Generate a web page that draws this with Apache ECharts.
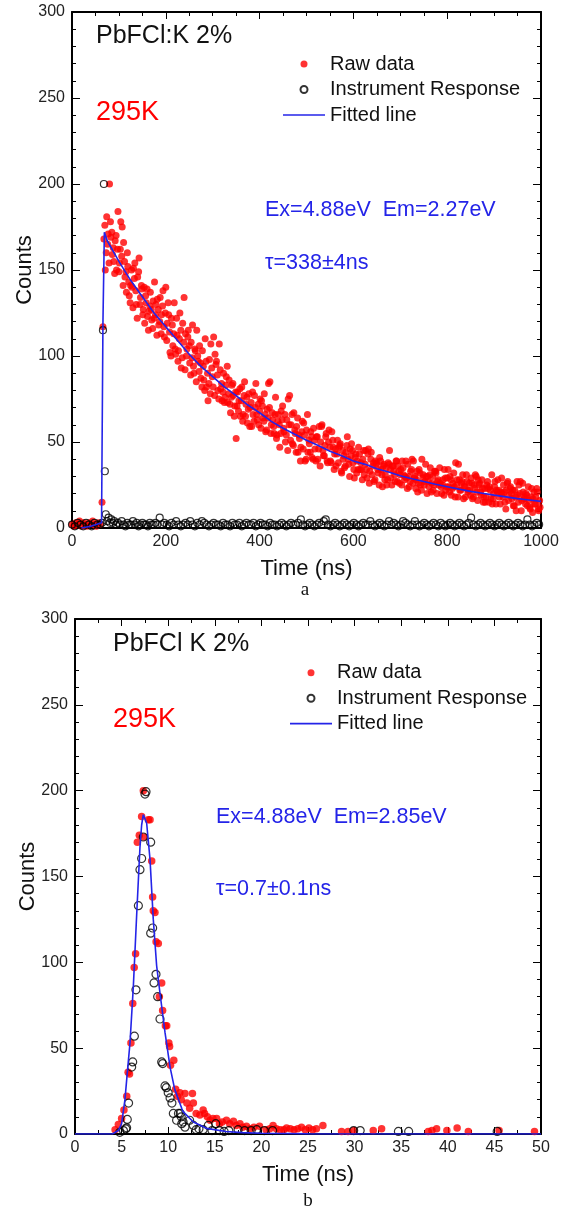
<!DOCTYPE html>
<html><head><meta charset="utf-8">
<script src="https://cdn.jsdelivr.net/npm/echarts@6/dist/echarts.min.js"></script>
<style>html,body{margin:0;padding:0;background:#fff}#c{width:567px;height:1210px}</style>
</head><body><div id="c"></div>
<script>
// ---------- Panel a (0-1000 ns) ----------
const rawA = [[0,2],[4,1],[8,3],[12,2],[16,4],[20,1],[24,3],[28,2],[32,1],[36,3],[40,2],[44,4],[48,2],[52,1],[56,3],[60,2],[64,15],[66,117],
[68,168],[71,150],[74,181],[77,171],[80,200],[83,169],[86,159],[89,155],[92,167],[95,150],
[98,184],[101,154],[104,178],[107,175],[110,166],[113,146],[116,137],[119,152],[122,135],[125,141],
[128,140],[131,151],[134,154],[137,130],[140,146],[143,157],[146,134],[149,139],[152,127],[155,119],
[158,131],[161,123],[164,126],[167,137],[170,121],[173,132],[176,143],[179,130],[182,133],[185,118],
[188,134],[191,124],[194,138],[197,111],[200,140],[203,119],[206,124],[209,102],[212,122],[215,106],
[218,131],[221,101],[224,112],[227,103],[230,125],[233,93],[236,119],[239,134],[242,113],[245,104],
[248,115],[251,96],[254,108],[257,118],[260,90],[263,103],[266,115],[269,97],[272,106],[275,87],
[278,103],[281,86],[284,110],[287,82],[290,74],[293,98],[296,107],[299,88],[302,111],[305,101],
[308,97],[311,80],[314,107],[317,81],[320,74],[323,90],[326,76],[329,88],[332,73],[335,86],
[338,67],[341,83],[344,77],[347,71],[350,52],[353,79],[356,74],[359,65],[362,82],[365,66],
[368,85],[371,72],[374,61],[377,78],[380,70],[383,59],[386,66],[389,77],[392,84],[395,63],
[398,60],[401,75],[404,74],[407,64],[410,78],[413,56],[416,69],[419,84],[422,85],[425,60],
[428,63],[431,55],[434,76],[437,54],[440,66],[443,47],[446,68],[449,71],[452,56],[455,50],
[458,63],[461,75],[464,77],[467,60],[470,49],[473,67],[476,55],[479,59],[482,44],[485,52],
[488,47],[491,62],[494,61],[497,39],[500,57],[503,44],[506,49],[509,56],[512,41],[515,58],
[518,46],[521,53],[524,40],[527,59],[530,50],[533,60],[536,42],[539,48],[542,55],[545,38],
[548,57],[551,39],[554,56],[557,47],[560,43],[563,36],[566,51],[569,47],[572,49],[575,32],
[578,40],[581,35],[584,44],[587,53],[590,37],[593,46],[596,49],[599,38],[602,29],[605,43],
[608,39],[611,47],[614,34],[617,34],[620,40],[623,31],[626,45],[629,29],[632,46],[635,33],
[638,44],[641,36],[644,27],[647,39],[650,38],[653,32],[656,41],[659,34],[662,24],[665,37],
[668,31],[671,25],[674,38],[677,45],[680,29],[683,36],[686,33],[689,27],[692,39],[695,36],
[698,26],[701,34],[704,39],[707,31],[710,30],[713,29],[716,37],[719,24],[722,33],[725,40],
[728,39],[731,30],[734,28],[737,21],[740,34],[743,25],[746,40],[749,31],[752,27],[755,30],
[758,30],[761,24],[764,35],[767,26],[770,22],[773,33],[776,32],[779,27],[782,25],[785,26],
[788,20],[791,28],[794,34],[797,22],[800,29],[803,24],[806,30],[809,19],[812,26],[815,24],
[818,38],[821,28],[824,37],[827,22],[830,26],[833,31],[836,24],[839,18],[842,27],[845,22],
[848,22],[851,29],[854,17],[857,25],[860,31],[863,21],[866,28],[869,26],[872,19],[875,23],
[878,18],[881,15],[884,25],[887,23],[890,24],[893,17],[896,14],[899,20],[902,27],[905,22],
[908,28],[911,18],[914,21],[917,20],[920,25],[923,15],[926,22],[929,27],[932,19],[935,24],
[938,17],[941,13],[944,22],[947,10],[950,19],[953,25],[956,27],[959,16],[962,21],[965,18],
[968,20],[971,13],[974,16],[977,11],[980,23],[983,17],[986,14],[989,18],[992,21],[995,10],[998,12],
[70,176],[73,160],[76,165],[79,154],[82,178],[85,172],[88,163],[91,148],[94,170],[97,162],
[100,149],[103,162],[106,158],[109,141],[112,155],[115,149],[118,160],[121,143],[124,131],[127,150],
[130,128],[133,145],[136,138],[139,122],[142,149],[145,130],[148,141],[151,124],[154,140],[157,135],
[160,139],[163,115],[166,129],[169,127],[172,116],[175,122],[178,124],[181,112],[184,127],[187,120],
[190,113],[193,129],[196,117],[199,125],[202,109],[205,131],[208,114],[211,100],[214,118],[217,113],
[220,104],[223,122],[226,97],[229,110],[232,115],[235,99],[238,108],[241,92],[244,100],[247,111],
[250,106],[253,89],[256,99],[259,94],[262,104],[265,85],[268,100],[271,91],[274,96],[277,82],
[280,94],[283,80],[286,97],[289,90],[292,84],[295,78],[298,93],[301,82],[304,77],[307,95],
[310,89],[313,75],[316,92],[319,84],[322,79],[325,73],[328,83],[331,94],[334,78],[337,72],
[340,76],[343,84],[346,65],[349,79],[352,71],[355,68],[358,81],[361,74],[364,62],[367,77],
[370,65],[373,76],[376,69],[379,59],[382,73],[385,79],[388,62],[391,70],[394,66],[397,72],
[400,68],[403,58],[406,71],[409,62],[412,66],[415,57],[418,64],[421,70],[424,55],[427,67],
[430,59],[433,66],[436,52],[439,62],[442,60],[445,55],[448,63],[451,58],[454,66],[457,54],
[460,45],[463,60],[466,51],[469,66],[472,48],[475,57],[478,44],[481,64],[484,54],[487,39],
[490,56],[493,46],[496,54],[499,40],[502,66],[505,51],[508,44],[511,53],[514,40],[517,51],
[520,39],[523,53],[526,46],[529,36],[532,59],[535,45],[538,42],[541,53],[544,39],[547,50],
[550,47],[553,38],[556,51],[559,34],[562,46],[565,43],[568,38],[571,48],[574,33],[577,45],
[580,42],[583,36],[586,48],[589,40],[592,30],[595,42],[598,45],[601,34],[604,41],[607,32],
[610,34],[613,43],[616,38],[619,28],[622,45],[625,37],[628,34],[631,43],[634,26],[637,40],
[640,31],[643,38],[646,28],[649,37],[652,34],[655,25],[658,39],[661,31],[664,36],[667,28],
[670,35],[673,28],[676,37],[679,34],[682,25],[685,36],[688,31],[691,39],[694,27],[697,33],
[700,31],[703,25],[706,35],[709,28],[712,39],[715,23],[718,30],[721,27],[724,34],[727,26],
[730,29],[733,23],[736,33],[739,26],[742,32],[745,22],[748,29],[751,25],[754,37],[757,20],
[760,27],[763,31],[766,21],[769,30],[772,25],[775,33],[778,20],[781,28],[784,35],[787,24],
[790,25],[793,19],[796,29],[799,24],[802,34],[805,21],[808,28],[811,23],[814,32],[817,18],
[820,25],[823,18],[826,28],[829,22],[832,27],[835,17],[838,24],[841,31],[844,21],[847,26],
[850,19],[853,26],[856,18],[859,23],[862,30],[865,16],[868,25],[871,21],[874,28],[877,15],
[880,23],[883,18],[886,27],[889,15],[892,22],[895,31],[898,17],[901,24],[904,14],[907,21],
[910,22],[913,14],[916,29],[919,18],[922,21],[925,11],[928,26],[931,16],[934,23],[937,20],
[940,22],[943,13],[946,18],[949,27],[952,15],[955,20],[958,10],[961,26],[964,17],[967,14],
[970,19],[973,24],[976,12],[979,18],[982,9],[985,21],[988,14],[991,23],[994,11],[997,16]];

const irfA = [[0,2],[6,1],[12,3],[18,2],[24,1],[30,3],[36,2],[42,1],[48,3],[54,2],[60,2],[64,3],[66,115],[68,200],[70,33],[72,8],[75,4],[78,6],[81,3],[84,5],[87,3],[90,4],[94,2],[98,3],[102,2],[106,4],[110,2],[114,1],[118,3],[122,2],[126,2],[130,4],[134,2],[138,3],[142,1],[146,2],[150,3],[154,2],[158,2],[162,1],[166,3],[170,2],[174,2],[178,3],[182,2],[187,6],[192,2],[197,3],[202,2],[207,1],[212,3],[217,2],[222,4],[227,2],[232,1],[237,2],[242,3],[247,2],[252,4],[257,2],[262,1],[267,3],[272,2],[277,4],[282,3],[287,2],[292,1],[297,2],[302,3],[307,2],[312,2],[317,1],[322,3],[327,2],[332,2],[337,1],[342,3],[347,2],[352,2],[357,3],[362,1],[367,2],[372,3],[377,2],[382,2],[387,3],[392,1],[397,2],[402,3],[407,2],[412,2],[417,1],[422,3],[427,2],[432,2],[437,1],[442,2],[447,3],[452,2],[457,1],[462,2],[467,3],[472,2],[477,2],[482,3],[488,5],[492,2],[497,1],[502,2],[507,3],[512,2],[517,1],[522,2],[527,3],[532,2],[537,4],[541,5],[546,2],[551,1],[556,2],[561,3],[566,2],[571,1],[576,2],[581,3],[586,2],[591,1],[596,2],[601,3],[606,2],[611,1],[616,2],[621,3],[626,2],[631,2],[636,4],[641,2],[646,1],[651,2],[656,3],[661,2],[666,1],[671,2],[676,4],[681,2],[686,3],[691,2],[696,1],[701,2],[706,4],[711,3],[716,2],[721,1],[726,2],[731,4],[736,2],[741,1],[746,2],[751,3],[756,2],[761,1],[766,2],[771,3],[776,2],[781,1],[786,3],[791,2],[796,1],[801,2],[806,3],[811,2],[816,1],[821,2],[826,3],[831,2],[836,1],[841,2],[846,3],[851,6],[856,2],[861,1],[866,2],[871,3],[876,2],[881,1],[886,2],[891,3],[896,2],[901,1],[906,2],[911,3],[916,2],[921,1],[926,2],[931,3],[936,2],[941,1],[946,2],[951,3],[956,2],[961,1],[966,2],[971,5],[976,2],[981,1],[986,2],[991,3],[996,2]];

const fitA = [[20,0],[40,1],[63,3],[66,120],[69,172],[75,167],[100,155],[125,144],[150,134.5],[175,125],[200,117],[225,109],[250,101],[275,94],[300,88],[325,82],[350,77],[375,71.5],[400,67],[425,62],[450,58],[475,54.5],[500,51],[525,48],[550,44.6],[575,42],[600,39],[625,37],[650,34.5],[675,32.5],[700,30.4],[725,28.6],[750,27],[775,25.4],[800,24],[825,22.6],[850,21.3],[875,20.2],[900,19.1],[925,18.1],[950,17.1],[975,16.3],[1000,15.5]];

// ---------- Panel b (0-50 ns) ----------
const rawB = [[4.3,2.5],[4.65,5.5],[5.0,9],[5.25,14],[5.55,22],[5.7,36],[5.85,35],[6.0,53],[6.2,76],[6.35,97],[6.5,105],[6.69,170],[6.9,174],[7.15,185],[7.33,200],[7.4,173],[7.87,183],[8.05,183],[8.23,159],[8.33,138],[8.4,130],[8.58,129],[8.7,112],[8.94,111],[9.05,80],[9.3,88],[9.4,72],[9.7,63],[9.84,63],[10.07,53],[10.15,51],[10.25,40],[10.6,43],[10.8,26],[11.0,22],[11.25,24],[11.4,20],[11.8,23.6],[12.0,18],[12.3,15],[12.6,23.6],[12.7,18],[13.0,12],[13.4,11],[13.75,14],[13.9,12],[14.2,10],[14.5,8],[14.8,9],[15.2,9],[15.5,6],[15.8,7],[16.25,8],[16.6,6],[17.0,7.4],[17.3,5],[17.7,6],[18.0,4],[18.4,4.5],[18.8,3],[19.2,4],[19.8,4.5],[20.5,2.5],[20.9,3],[21.25,5],[21.6,3],[22.0,2.5],[22.4,2.5],[22.7,3.5],[23.1,3],[23.5,2.5],[23.9,3],[24.3,4],[24.7,2.5],[25.1,3.5],[25.5,2.5],[25.9,3],[26.6,5],[28.6,1.5],[29.3,1.5],[29.9,2],[32.0,2],[32.9,3],[37.9,1.5],[38.3,2],[38.8,3],[39.9,2],[41.0,3.5],[42.2,1.5],[45.5,2],[49.3,1.5]];

const irfB = [[4.8,1],[5.2,2],[5.45,3],[5.54,3.6],[5.61,8.5],[5.75,18],[6.08,39],[6.19,42],[6.37,57],[6.54,84],[6.8,133],[6.97,154],[7.15,160.5],[7.33,173],[7.51,198],[7.62,199.4],[8.12,170],[8.12,117],[8.33,120],[8.48,88],[8.69,93],[8.87,80],[9.12,67],[9.3,42],[9.41,41],[9.66,28],[9.8,27],[10.0,24],[10.2,21],[10.4,18],[10.55,12],[10.9,8],[11.1,12],[11.3,12],[11.4,10],[11.45,6],[11.6,7],[11.8,4],[12.3,8],[12.7,5],[13.0,2.5],[13.3,3],[13.75,2.5],[14.3,5],[14.7,2],[15.1,6],[15.5,2],[16.0,1.5],[16.5,2],[17.5,2.5],[18.2,2],[18.9,2],[19.5,2.5],[20.3,2],[21.2,2],[29.9,2],[30.6,2],[34.7,1.5],[35.8,1.5],[45.3,1.5]];

const fitB = [[0,0],[4.0,0],[4.65,2],[5.0,6],[5.36,20],[5.6,35],[5.9,53],[6.26,86],[6.62,128],[6.97,167],[7.15,180],[7.33,186],[7.5,185],[7.69,181],[8.05,160],[8.4,125],[8.76,98],[9.12,82],[9.66,59],[10.2,39],[10.7,26],[11.45,15],[11.6,13],[12.7,7],[14.1,3.3],[16.2,1.5],[18,0.8],[20,0.4],[25,0.1],[50,0]];

const seriesNames = ['Raw data','Instrument Response','Fitted line'];

const FF = '"Liberation Sans", Arial, sans-serif';
const BLUE = '#2424e8';
const chart = echarts.init(document.getElementById('c'), null, {renderer:'canvas'});

function xAx(grid, max, interval, minorSplit, top) {
  return {
    gridIndex: grid, type:'value', min:0, max:max, interval:interval,
    position: top ? 'top' : 'bottom',
    axisLine:{show:true, onZero:false, lineStyle:{color:'#000', width:2}},
    axisTick:{show:true, inside:true, length:7, lineStyle:{color:'#000', width:1}},
    minorTick:{show:true, splitNumber:minorSplit, length:4, lineStyle:{color:'#000', width:1}},
    axisLabel:{show:!top, margin:6, fontSize:16, color:'#222', fontFamily:FF, formatter:function(v){return String(v);}},
    splitLine:{show:false},
    name: top ? '' : 'Time (ns)', nameLocation:'middle', nameGap:30,
    nameTextStyle:{fontSize:22, color:'#111', fontFamily:FF}
  };
}
function yAx(grid, right) {
  return {
    gridIndex: grid, type:'value', min:0, max:300, interval:50,
    position: right ? 'right' : 'left',
    axisLine:{show:true, onZero:false, lineStyle:{color:'#000', width:2}},
    axisTick:{show:true, inside:true, length:8, lineStyle:{color:'#000', width:1}},
    minorTick:{show:true, splitNumber:5, length:4, lineStyle:{color:'#000', width:1}},
    axisLabel:{show:!right, margin:7, fontSize:16, color:'#222', fontFamily:FF, formatter:function(v){return String(v);}},
    splitLine:{show:false},
    name: right ? '' : 'Counts', nameLocation:'middle', nameGap:36, nameMoveOverlap:false,
    nameTextStyle:{fontSize:22, color:'#111', fontFamily:FF}
  };
}

function panelSeries(xi, yi, raw, irf, fit, rs, cs) {
  return [
    {name:seriesNames[0], type:'scatter', xAxisIndex:xi, yAxisIndex:yi, data:raw,
     symbol:'circle', symbolSize:rs, itemStyle:{color:'#ff0000'}, z:2},
    {name:seriesNames[1], type:'scatter', xAxisIndex:xi, yAxisIndex:yi, data:irf,
     symbol:'circle', symbolSize:cs, itemStyle:{color:'rgba(255,255,255,0)', borderColor:'#000', borderWidth:1.2}, z:3},
    {name:seriesNames[2], type:'line', xAxisIndex:xi, yAxisIndex:yi, data:fit,
     symbol:'none', smooth:false, lineStyle:{color:BLUE, width:1.6}, itemStyle:{color:BLUE}, z:4}
  ];
}

function legendAt(left, top) {
  return {
    data:[{name:seriesNames[0], icon:'circle'}, {name:seriesNames[1], icon:'circle'},
          {name:seriesNames[2], icon:'path://M0,0L42,0L42,1.7L0,1.7Z'}],
    orient:'vertical', left:left, top:top, padding:0, itemWidth:42, itemHeight:7, itemGap:5.5,
    selectedMode:false, textStyle:{fontSize:20, lineHeight:20, color:'#111', fontFamily:FF}};
}

function txt(x, y, s, size, color) {
  return {type:'text', x:x, y:y, silent:true,
    style:{text:s, fill:color, font: size + 'px ' + FF, align:'left', verticalAlign:'middle'}};
}
function cap(x, y, s) {
  return {type:'text', x:x, y:y, silent:true,
    style:{text:s, fill:'#111', font:'19px "Liberation Serif", "DejaVu Serif", serif', align:'center', verticalAlign:'middle'}};
}

const option = {
  animation:false,
  backgroundColor:'#fff',
  grid:[
    {left:72, top:12, width:469, height:516},
    {left:75, top:619, width:466, height:515}
  ],
  xAxis:[xAx(0,1000,200,4,false), xAx(0,1000,200,4,true), xAx(1,50,5,2,false), xAx(1,50,5,2,true)],
  yAxis:[yAx(0,false), yAx(0,true), yAx(1,false), yAx(1,true)],
  legend:[legendAt(283,54), legendAt(290,662.7)],
  series:[].concat(panelSeries(0,0,rawA,irfA,fitA,7,7), panelSeries(2,2,rawB,irfB,fitB,7.5,8)),
  graphic:[
    txt(96, 36.5, 'PbFCl:K 2%', 25, '#111'),
    txt(96, 113, '295K', 27, '#ff0000'),
    txt(265, 210, 'Ex=4.88eV  Em=2.27eV', 21.5, BLUE),
    txt(265, 263, 'τ=338±4ns', 21.5, BLUE),
    cap(305, 590, 'a'),
    txt(113, 644, 'PbFCl K 2%', 25, '#111'),
    txt(113, 720, '295K', 27, '#ff0000'),
    txt(216, 816.7, 'Ex=4.88eV  Em=2.85eV', 21.5, BLUE),
    txt(216, 889, 'τ=0.7±0.1ns', 21.5, BLUE),
    cap(308, 1201, 'b')
  ]
};
chart.setOption(option);
</script>
</body></html>
